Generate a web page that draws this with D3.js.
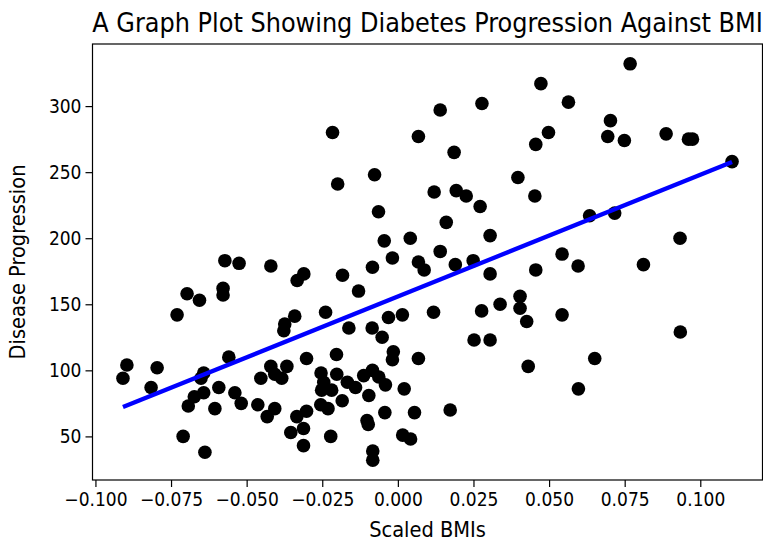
<!DOCTYPE html>
<html>
<head>
<meta charset="utf-8">
<script src="https://cdn.jsdelivr.net/npm/d3@7"></script>
<style>
  html, body { margin: 0; padding: 0; background: #fff; }
  svg { display: block; }
  text { font-family: "DejaVu Sans", sans-serif; fill: #000; }
</style>
</head>
<body>
<svg id="chart" width="763" height="543"></svg>
<script>
// ---- data ----
const bmiValues = [
  -0.0216, -0.0199, -0.0077, -0.0064, -0.0045, -0.0018, -0.0084, 0.0041, 0.0068, 0.0068,
   0.0087,  0.0140,  0.0120,  0.0140,  0.0160,  0.0186,  0.0193, 0.0226, 0.0272, 0.0278,
   0.0305,  0.0190,  0.0249,  0.0397,  0.0456,  0.0473,  0.0453, 0.0456, -0.0311, -0.0183,
   0.0768,  0.0564,  0.0703,  0.0694,  0.0749,  0.0887,  0.0961, 0.0974, 0.0498, 0.1105,
   0.0634,  0.0717,  0.0933,  0.0543,  0.0596,  0.0812,  0.0404, 0.0404, 0.0426, 0.0543,
   0.0934,  0.0651,  0.0431,  0.0597, -0.0130,  0.0305, -0.0239, -0.0162, -0.0085, -0.0052,
  -0.0031,  0.0015,  0.0118,  0.0277,  0.0338,  0.0252,  0.0305, -0.0302, -0.0203, -0.0015,
  -0.0018,  0.0068, -0.0453, -0.0420, -0.0407, -0.0384, -0.0367, -0.0254, -0.0202, -0.0245,
  -0.0219, -0.0252, -0.0167, -0.0184, -0.0140, -0.0113, -0.0084, -0.0063, -0.0041, -0.0096,
   0.0021, -0.0043,  0.0055, -0.0463, -0.0432, -0.0407, -0.0334, -0.0302, -0.0255, -0.0231,
  -0.0354, -0.0312, -0.0312, -0.0222, -0.0102, -0.0098,  0.0016,  0.0042, -0.0083, -0.0083,
   0.0173, -0.0572, -0.0525, -0.0420, -0.0333, -0.0697, -0.0656, -0.0730, -0.0578, -0.0578,
  -0.0374, -0.0377, -0.0341, -0.0896, -0.0909, -0.0796, -0.0816, -0.0559, -0.0642, -0.0651,
  -0.0592, -0.0642, -0.0673, -0.0693, -0.0605, -0.0539, -0.0518, -0.0710, -0.0638
];
const progressionValues = [
  280, 241, 248, 220, 198, 185, 178, 200, 277, 182,
  176, 297, 235, 190, 212, 265, 236, 232, 224, 302,
  202, 180, 183, 246, 271, 317, 232, 176, 173, 172,
  332, 303, 289, 277, 274, 279, 275, 275, 280, 258,
  217, 219, 200, 188, 179, 180, 156, 147, 137, 142,
  129, 109, 103, 86, 160, 173, 144, 132, 132, 125,
  140, 142, 144, 145, 150, 123, 123, 109, 112, 114,
  108, 109, 94, 103, 97, 94, 103, 98, 97, 91,
  85, 85, 91, 77, 87, 96, 100, 95, 89, 81,
  86, 68, 68, 74, 65, 71, 65, 69, 74, 71,
  53, 56, 43, 50, 62, 59, 51, 48, 39, 32,
  70, 183, 181, 179, 168, 158, 153, 142, 162, 157,
  135, 130, 141, 104, 94, 102, 87, 110, 98, 94,
  87, 83, 80, 73, 71, 83, 75, 50, 38
];
// fitted regression line (slope and intercept)
const lineCoef = 921;
const lineIntercept = 155.9;

const xTicks = [-0.100, -0.075, -0.050, -0.025, 0.000, 0.025, 0.050, 0.075, 0.100];
const yTicks = [50, 100, 150, 200, 250, 300];

const titleText = "A Graph Plot Showing Diabetes Progression Against BMI";
const xLabelText = "Scaled BMIs";
const yLabelText = "Disease Progression";

// ---- layout ----
const svg = d3.select("#chart");
const plot = { left: 92.5, right: 762.5, top: 44, bottom: 480 };
const condensed = "'DejaVu Sans Condensed', 'DejaVu Sans', sans-serif";

const points = bmiValues.map((b, i) => ({ x: b, y: progressionValues[i] }));

// matplotlib-like 5% margins
const xExt = d3.extent(bmiValues), yExt = d3.extent(progressionValues);
const xPad = (xExt[1] - xExt[0]) * 0.05, yPad = (yExt[1] - yExt[0]) * 0.05;

const x = d3.scaleLinear().domain([xExt[0] - xPad, xExt[1] + xPad]).range([plot.left, plot.right]);
const y = d3.scaleLinear().domain([yExt[0] - yPad, yExt[1] + yPad]).range([plot.bottom, plot.top]);

const minusFmt = (s) => s.replace("-", "\u2212");

// points
svg.append("g").selectAll("circle").data(points).join("circle")
  .attr("cx", d => x(d.x)).attr("cy", d => y(d.y)).attr("r", 6.8)
  .attr("fill", "#000");

// regression line
const lineData = xExt.map(v => ({ x: v, y: lineCoef * v + lineIntercept }));
svg.append("path").datum(lineData)
  .attr("d", d3.line().x(d => x(d.x)).y(d => y(d.y)))
  .attr("stroke", "#0000ff").attr("stroke-width", 4.3).attr("fill", "none");

// axes
const xAxis = d3.axisBottom(x).tickValues(xTicks).tickSize(7).tickPadding(6)
  .tickFormat(d => minusFmt(d3.format(".3f")(d)));
const yAxis = d3.axisLeft(y).tickValues(yTicks).tickSize(7).tickPadding(4)
  .tickFormat(d3.format("d"));

const gx = svg.append("g").attr("transform", `translate(0,${plot.bottom})`).call(xAxis);
const gy = svg.append("g").attr("transform", `translate(${plot.left},0)`).call(yAxis);
[gx, gy].forEach(g => {
  g.select(".domain").remove();
  g.selectAll(".tick line").attr("stroke", "#000").attr("stroke-width", 1.2);
  g.selectAll(".tick text").attr("fill", "#000").style("font-size", "19px")
    .style("font-family", condensed);
});

// frame
svg.append("rect")
  .attr("x", plot.left).attr("y", plot.top)
  .attr("width", plot.right - plot.left).attr("height", plot.bottom - plot.top)
  .attr("fill", "none").attr("stroke", "#000").attr("stroke-width", 1.2);

// title & labels
const cx = (plot.left + plot.right) / 2;
svg.append("text").attr("x", cx).attr("y", 31.5).attr("text-anchor", "middle")
  .style("font-size", "26.7px").style("font-family", condensed).text(titleText);
svg.append("text").attr("x", cx).attr("y", 537).attr("text-anchor", "middle")
  .style("font-size", "21.6px").style("font-family", condensed).text(xLabelText);
svg.append("text").attr("transform", `translate(25,${(plot.top + plot.bottom) / 2}) rotate(-90)`)
  .attr("text-anchor", "middle").style("font-size", "21.6px").style("font-family", condensed)
  .text(yLabelText);
</script>
</body>
</html>
